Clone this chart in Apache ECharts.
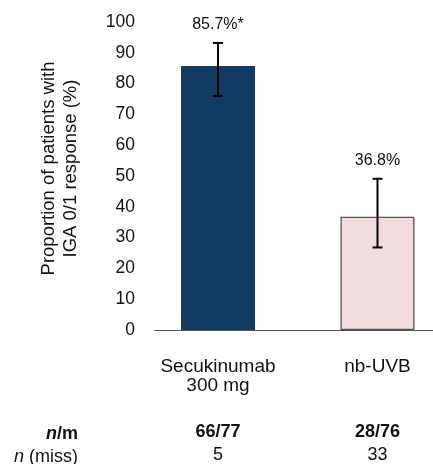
<!DOCTYPE html>
<html>
<head>
<meta charset="utf-8">
<script src="https://cdn.jsdelivr.net/npm/echarts@6/dist/echarts.min.js"></script>
<style>html,body{margin:0;padding:0;background:#fff}#c{width:433px;height:464px}</style>
</head>
<body>
<div id="c"></div>
<script>
var categories = ['Secukinumab\n300 mg', 'nb-UVB'];
var values = [85.7, 36.8];
var errLow = [76.0, 26.8];
var errHigh = [93.2, 49.1];
var valueLabels = ['85.7%*', '36.8%'];
var nm = ['66/77', '28/76'];
var nMiss = ['5', '33'];
var yTicks = [0, 10, 20, 30, 40, 50, 60, 70, 80, 90, 100];
var barColors = ['#123b63', '#f2dcdd'];
var barBorders = ['#123b63', '#555555'];

var FONT = '"Liberation Sans", Arial, Helvetica, sans-serif';
var chart = echarts.init(document.getElementById('c'), null, {renderer: 'canvas'});

var xPos = categories.map(function (c, i) { return i; });

function xAxisBase(extra) {
  var a = {
    type: 'value', min: -0.395, max: 1.348,
    axisLine: {show: false}, axisTick: {show: false}, splitLine: {show: false},
    axisLabel: {show: true, customValues: xPos, color: '#111', fontFamily: FONT}
  };
  for (var k in extra) a[k] = extra[k];
  return a;
}

var option = {
  animation: false,
  backgroundColor: '#fff',
  grid: {left: 155, right: 0, top: 22, bottom: 132.5, containLabel: false},
  xAxis: [
    xAxisBase({
      axisLine: {show: true, lineStyle: {color: '#555', width: 1.2}},
      axisLabel: {show: true, customValues: xPos, color: '#111', fontFamily: FONT, fontSize: 19,
        lineHeight: 19, margin: 27, formatter: function (v) { return categories[Math.round(v)]; }}
    }),
    xAxisBase({
      position: 'bottom',
      axisLabel: {show: true, customValues: xPos, color: '#111', fontFamily: FONT, fontSize: 18,
        fontWeight: 'bold', lineHeight: 18, margin: 93,
        formatter: function (v) { return nm[Math.round(v)]; }}
    }),
    xAxisBase({
      position: 'bottom',
      axisLabel: {show: true, customValues: xPos, color: '#111', fontFamily: FONT, fontSize: 18,
        lineHeight: 18, margin: 116,
        formatter: function (v) { return nMiss[Math.round(v)]; }}
    })
  ],
  yAxis: {
    type: 'value', min: 0, max: 100, interval: 10,
    axisLine: {show: false}, axisTick: {show: false}, splitLine: {show: false},
    axisLabel: {color: '#111', fontFamily: FONT, fontSize: 17.5, margin: 20,
      customValues: yTicks},
    name: 'Proportion of patients with\nIGA 0/1 response (%)',
    nameLocation: 'middle', nameRotate: 90, nameGap: 73,
    nameTextStyle: {color: '#111', fontFamily: FONT, fontSize: 18.5, lineHeight: 22, align: 'center',
      padding: [0, 0, 0, 15]}
  },
  series: [
    {
      type: 'bar', xAxisIndex: 0, barWidth: 74,
      data: values.map(function (v, i) {
        return {value: [i, v], itemStyle: {color: barColors[i], borderColor: barBorders[i], borderWidth: i === 1 ? 1.3 : 0}};
      })
    },
    {
      type: 'custom', xAxisIndex: 0, z: 5,
      data: values.map(function (v, i) { return [i, errLow[i], errHigh[i]]; }),
      renderItem: function (params, api) {
        var i = params.dataIndex;
        var lo = api.coord([api.value(0), api.value(1)]);
        var hi = api.coord([api.value(0), api.value(2)]);
        var x = lo[0], hw = 5;
        var st = {stroke: '#000', lineWidth: 2};
        return {
          type: 'group',
          children: [
            {type: 'line', shape: {x1: x, y1: lo[1], x2: x, y2: hi[1]}, style: st},
            {type: 'line', shape: {x1: x - hw, y1: lo[1], x2: x + hw, y2: lo[1]}, style: st},
            {type: 'line', shape: {x1: x - hw, y1: hi[1], x2: x + hw, y2: hi[1]}, style: st},
            {type: 'text', x: x, y: hi[1] - 18,
             style: {text: valueLabels[i], fill: '#111', font: '16px ' + FONT, align: 'center', verticalAlign: 'middle'}}
          ]
        };
      }
    }
  ],
  graphic: [
    {type: 'text', right: 433 - 78, top: 425,
     style: {text: '{i|n}{b|/m}', align: 'right', fill: '#111',
       rich: {i: {fontFamily: FONT, fontSize: 18, fontWeight: 'bold', fontStyle: 'italic', fill: '#111'},
              b: {fontFamily: FONT, fontSize: 18, fontWeight: 'bold', fill: '#111'}}}},
    {type: 'text', right: 433 - 78, top: 448,
     style: {text: '{i|n}{r| (miss)}', align: 'right', fill: '#111',
       rich: {i: {fontFamily: FONT, fontSize: 18, fontStyle: 'italic', fill: '#111'},
              r: {fontFamily: FONT, fontSize: 18, fill: '#111'}}}}
  ]
};
chart.setOption(option);
</script>
</body>
</html>
